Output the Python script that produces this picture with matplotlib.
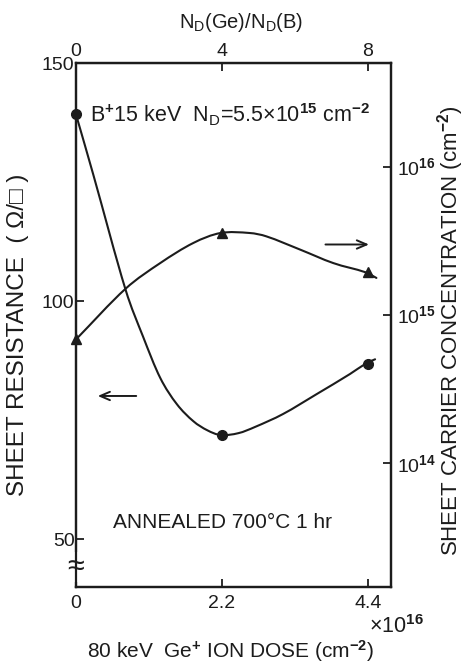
import numpy as np
import matplotlib
matplotlib.use("Agg")
import matplotlib.pyplot as plt
from matplotlib.path import Path
from matplotlib.patches import PathPatch
from matplotlib.ticker import FixedLocator, NullLocator

# --- DATA ---
ge_dose = [0.0, 2.2, 4.4]                 # x10^16 cm^-2
sheet_res = [139.2, 72.0, 86.9]           # ohm/sq
carrier = [6.8e14, 3.55e15, 1.94e15]      # cm^-2

# hand-drawn smooth curves
res_curve_x = [0.0, 0.26, 0.75, 1.01, 1.27, 1.52, 1.77, 1.98, 2.18, 2.45, 2.70, 3.12, 3.63, 4.13, 4.37, 4.51]
res_curve_y = [139.2, 126.6, 102.3, 92.6, 83.9, 78.4, 74.8, 72.9, 71.9, 72.3, 73.6, 76.3, 80.5, 84.7, 86.9, 87.8]
car_curve_x = [0.0, 0.75, 1.27, 1.77, 2.18, 2.62, 2.87, 3.38, 3.88, 4.37, 4.53]
car_curve_y = [6.8e14, 1.50e15, 2.23e15, 3.05e15, 3.56e15, 3.56e15, 3.38e15, 2.75e15, 2.23e15, 1.93e15, 1.77e15]

bottom_ticks = [0, 2.2, 4.4]
bottom_labels = ["0", "2.2", "4.4"]
top_ticks = [0, 4, 8]
left_ticks = [50, 100, 150]
right_ticks = [1e14, 1e15, 1e16]
right_labels = [r"10$^{\mathbf{14}}$", r"10$^{\mathbf{15}}$", r"10$^{\mathbf{16}}$"]
nd_boron = 0.55   # 5.5e15 in units of 1e16

INK = "#1c1c1c"
plt.rcParams["font.family"] = ["Liberation Sans", "DejaVu Sans"]
plt.rcParams["mathtext.fontset"] = "custom"
plt.rcParams["mathtext.rm"] = "Liberation Sans"
plt.rcParams["mathtext.it"] = "Liberation Sans"
plt.rcParams["mathtext.bf"] = "Liberation Sans:bold"
plt.rcParams["text.color"] = INK


def smooth_curve(ax, xs, ys, logy=False):
    # cubic hermite through the traced points (tangents from neighbours), drawn as a bezier path
    x = np.asarray(xs, float)
    y = np.log10(ys) if logy else np.asarray(ys, float)
    n = len(x)
    m = np.empty(n)
    m[0] = (y[1] - y[0]) / (x[1] - x[0])
    m[-1] = (y[-1] - y[-2]) / (x[-1] - x[-2])
    m[1:-1] = (y[2:] - y[:-2]) / (x[2:] - x[:-2])
    verts = [(x[0], y[0])]
    codes = [Path.MOVETO]
    for i in range(n - 1):
        h = (x[i + 1] - x[i]) / 3
        verts += [(x[i] + h, y[i] + h * m[i]), (x[i + 1] - h, y[i + 1] - h * m[i + 1]), (x[i + 1], y[i + 1])]
        codes += [Path.CURVE4] * 3
    verts = np.array(verts)
    if logy:
        verts[:, 1] = 10 ** verts[:, 1]
    ax.add_patch(PathPatch(Path(verts, codes), fill=False, ec=INK, lw=1.5,
                           capstyle="round", joinstyle="round"))


fig = plt.figure(figsize=(4.65, 6.64), dpi=100)
ax = fig.add_axes([76 / 465, 1 - 587 / 664, 315 / 465, 524 / 664])
ax2 = ax.twinx()

# sheet resistance (left axis)
smooth_curve(ax, res_curve_x, res_curve_y)
ax.plot(ge_dose, sheet_res, "o", color=INK, ms=7, clip_on=False)
ax.set_xlim(0, 4.75)
ax.set_ylim(40, 150)

# carrier concentration (right axis, log)
ax2.set_yscale("log")
ax2.set_ylim(10 ** 13.16, 10 ** 16.70)
smooth_curve(ax2, car_curve_x, car_curve_y, logy=True)
ax2.plot(ge_dose, carrier, "^", color=INK, ms=7, clip_on=False)

# ticks
ax.xaxis.set_major_locator(FixedLocator(bottom_ticks))
ax.set_xticklabels(bottom_labels)
ax.yaxis.set_major_locator(FixedLocator(left_ticks))
ax2.yaxis.set_major_locator(FixedLocator(right_ticks))
ax2.yaxis.set_minor_locator(NullLocator())
ax2.set_yticklabels(right_labels)
for a in (ax, ax2):
    a.tick_params(direction="in", length=6, width=1.3, labelsize=14, colors=INK, pad=1)
    for s in a.spines.values():
        s.set_linewidth(1.6)
        s.set_color(INK)
ax.tick_params(axis="x", pad=6)
ax2.tick_params(axis="y", pad=4, labelsize=14)

# top axis: Nd(Ge)/Nd(B)
top = ax.secondary_xaxis("top", functions=(lambda x: x / nd_boron, lambda r: r * nd_boron))
top.xaxis.set_major_locator(FixedLocator(top_ticks))
top.tick_params(direction="in", length=6, width=1.3, labelsize=14, colors=INK, pad=2)
fig.text(241 / 465, 1 - 22 / 664, r"N$_{\rm D}$(Ge)/N$_{\rm D}$(B)", fontsize=14.5,
         ha="center", va="center")

# axis break on the left below 50
ax.text(0, 44.2, "\u2248", fontsize=22, ha="center", va="center",
        bbox=dict(fc="white", ec="none", pad=0))

# arrows pointing to the axes
ax.annotate("", xy=(4.46, 111.9), xytext=(3.72, 111.9),
            arrowprops=dict(arrowstyle="->,head_length=0.7,head_width=0.3", color=INK, lw=1.4))
ax.annotate("", xy=(0.286, 80.1), xytext=(0.95, 80.1),
            arrowprops=dict(arrowstyle="->,head_length=0.7,head_width=0.3", color=INK, lw=1.4))

# annotations
ax.text(0.21, 139.2, r"B$^{\mathbf{+}}$15 keV  N$_{\rm D}$=5.5$\times$10$^{\mathbf{15}}$ cm$^{\mathbf{-2}}$",
        fontsize=15.5, ha="left", va="center")
ax.text(0.56, 53.5, "ANNEALED 700\u00b0C 1 hr", fontsize=15, ha="left", va="center")

# axis labels
fig.text(396 / 465, 1 - 627 / 664, r"$\times$10$^{\mathbf{16}}$", fontsize=15.5, ha="center", va="center")
fig.text(231 / 465, 1 - 651 / 664, r"80 keV  Ge$^{\mathbf{+}}$ ION DOSE (cm$^{\mathbf{-2}}$)",
         fontsize=15, ha="center", va="center")
fig.text(18 / 465, 1 - 335 / 664, "SHEET RESISTANCE  ( \u03a9/\u25a1 )", fontsize=17.5,
         rotation=90, ha="center", va="center")
fig.text(451 / 465, 1 - 331 / 664, r"SHEET CARRIER CONCENTRATION (cm$^{\mathbf{-2}}$)", fontsize=16,
         rotation=90, ha="center", va="center")

fig.savefig("out.png", dpi=100)
